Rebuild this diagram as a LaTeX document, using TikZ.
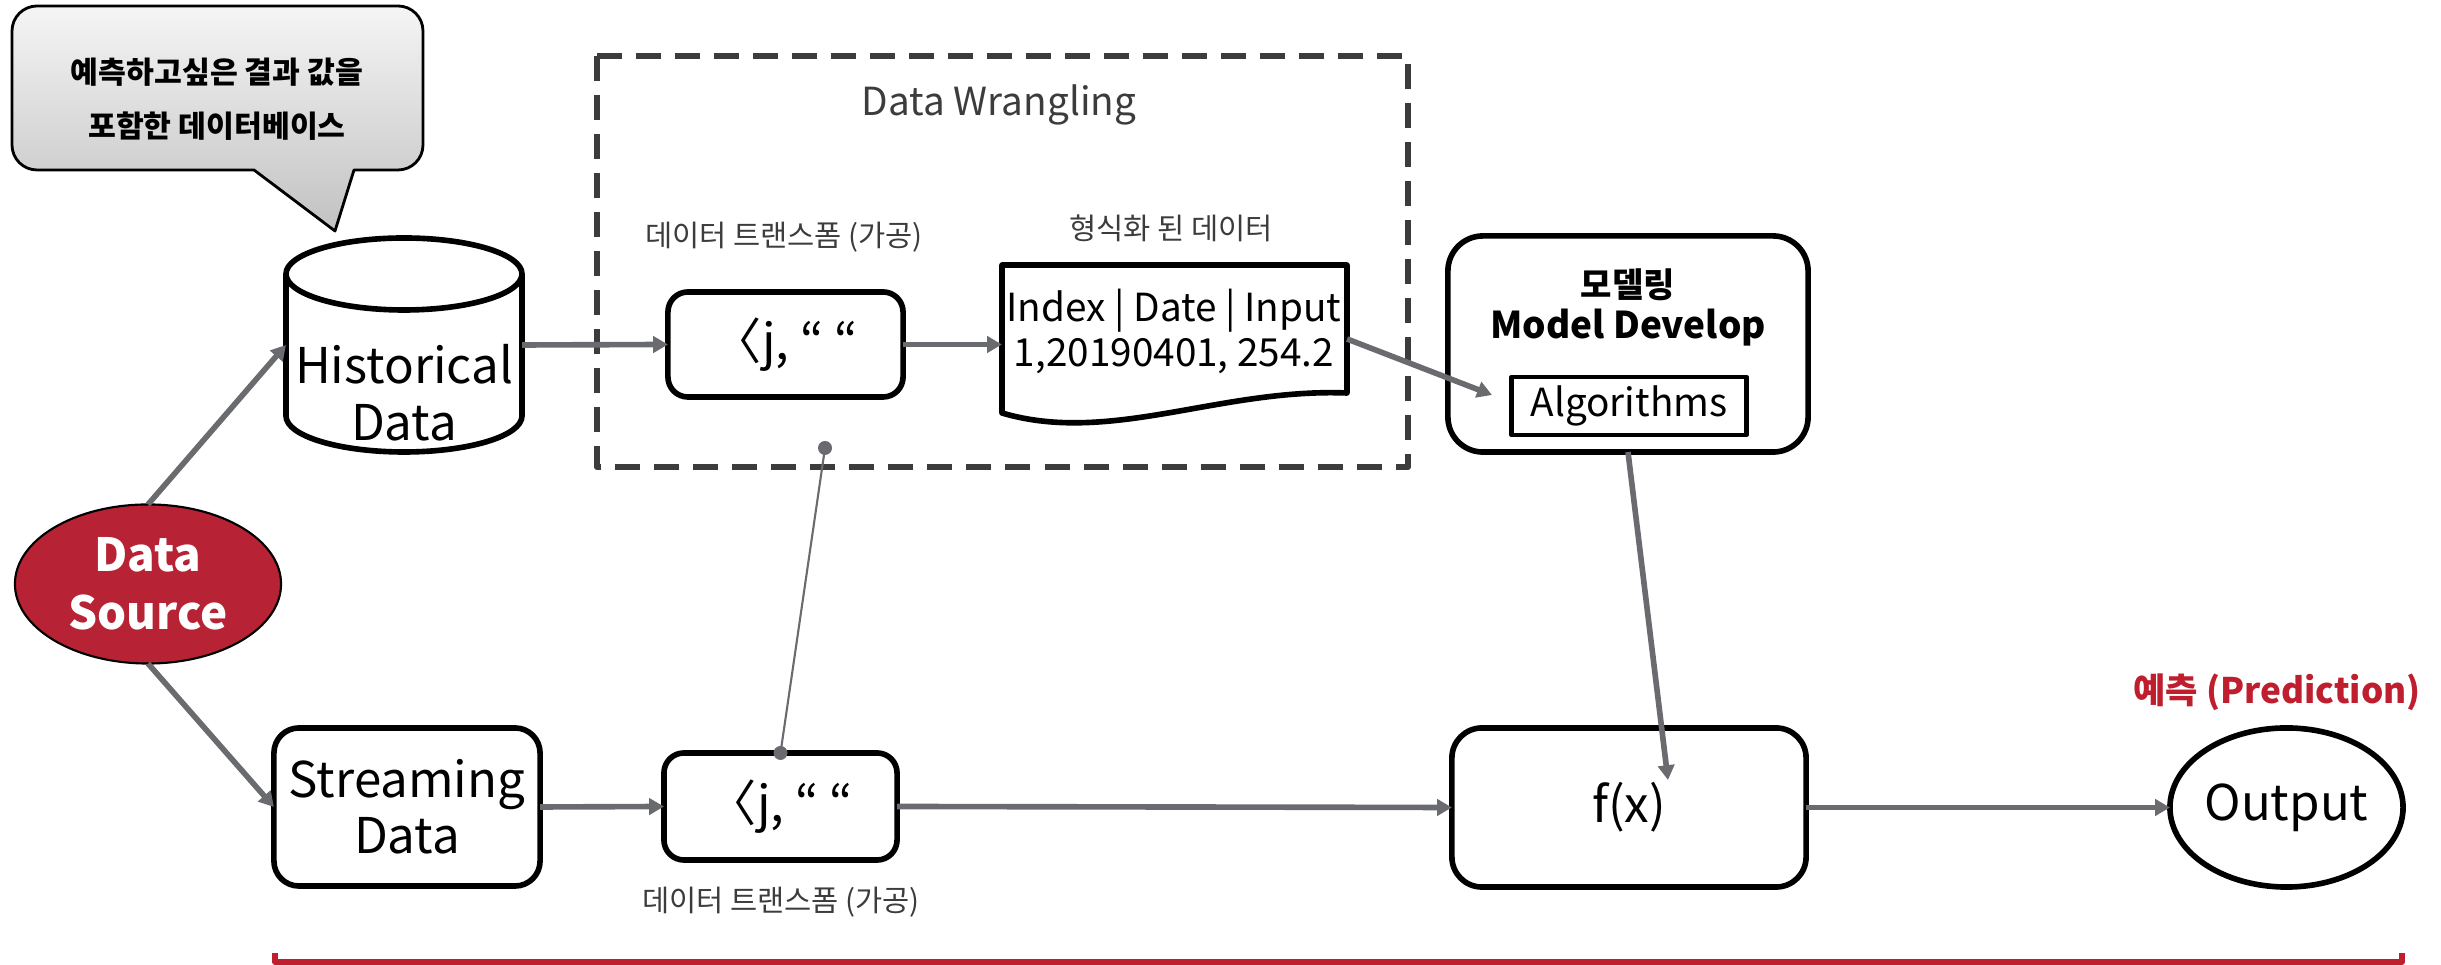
\documentclass[tikz,border=0pt]{standalone}
\usepackage{fontspec}
\setmainfont{Noto Sans CJK KR}
\usetikzlibrary{arrows.meta,shapes.geometric}
\definecolor{dsred}{HTML}{B72234}
\definecolor{labred}{HTML}{BE1E2D}
\definecolor{conn}{HTML}{6A6B6F}
\definecolor{wrangle}{HTML}{3C3C3C}
\newcommand{\fsz}[2]{\fontsize{#1}{#2}\selectfont}

\begin{document}
\begin{tikzpicture}[x=0.01cm, y=-0.01cm, line join=round,
  every node/.style={inner sep=0pt, outer sep=0pt, align=center},
  frame/.style={draw=black, line width=1.6pt, fill=white},
  roundbox/.style={frame, rounded corners=#1},
  flow/.style={draw=conn, line width=1.6pt, -{Triangle[length=4.2pt,width=4.6pt]}},
  tag/.style={text=wrangle, font=\fsz{8.4}{10}},
  bigtext/.style={font=\fsz{14}{16}}]
\useasboundingbox (0,0) rectangle (2441,965);

% Data wrangling frame
\draw[wrangle, line width=1.7pt, dash pattern=on 0.25cm off 0.14cm] (597,56) rectangle (1408,467);
\node[text=wrangle, font=\fsz{11}{13}] (dwtitle) at (999,105) {Data Wrangling};

% callout with tail pointing at the database
\path[draw=black, line width=0.8pt, top color=gray!8, bottom color=gray!48]
  (37,6) -- (398,6) arc[start angle=270, end angle=360, radius=25]
  -- (423,145) arc[start angle=0, end angle=90, radius=25]
  -- (354,170) -- (335,231) -- (254,170)
  -- (37,170) arc[start angle=90, end angle=180, radius=25]
  -- (12,31) arc[start angle=180, end angle=270, radius=25] -- cycle;
\node[font=\bfseries\fsz{8.6}{15.4}] (note) at (217,99) {예측하고싶은 결과 값을\\포함한 데이터베이스};

% database cylinder
\path[frame] (286,274) -- (286,416) arc[start angle=180, end angle=0, x radius=118, y radius=36]
  -- (522,274) arc[start angle=0, end angle=-180, x radius=118, y radius=36] -- cycle;
\draw[line width=1.6pt] (286,274) arc[start angle=180, end angle=0, x radius=118, y radius=36];
\node[minimum width=2.36cm, minimum height=2.14cm] (hist) at (404,345) {};
\node[font=\fsz{14}{16.2}] (histtext) at (404,393) {Historical\\Data};

% sources
\node[ellipse, draw=black, line width=0.6pt, fill=dsred, minimum width=2.66cm, minimum height=1.59cm,
  text=white, font=\bfseries\fsz{13}{16.5}] (ds) at (148,584) {Data\\Source};
\node[roundbox=0.25cm, minimum width=2.66cm, minimum height=1.58cm, font=\fsz{14}{16}] (stream) at (407,807) {Streaming\\Data};

% transforms
\node[roundbox=0.2cm, minimum width=2.35cm, minimum height=1.05cm, bigtext] (ubox) at (785.5,344.5) {〈j, “ “};
\node[roundbox=0.2cm, minimum width=2.33cm, minimum height=1.07cm, bigtext] (lbox) at (780.5,806.5) {〈j, “ “};
\node[tag] (ulabel) at (784,237) {데이터 트랜스폼 (가공)};
\node[tag] (llabel) at (781,902) {데이터 트랜스폼 (가공)};
\node[tag] (doclabel) at (1171,228) {형식화 된 데이터};

% formatted data document
\path[frame] (1002,265) -- (1347,265) -- (1347,393)
  .. controls (1220,388) and (1110,445) .. (1002,413) -- cycle;
\node[minimum width=3.45cm, minimum height=1.48cm] (doc) at (1174.5,339) {};
\node[font=\fsz{11}{12.8}] (doctext) at (1174,331) {Index | Date | Input\\1,20190401, 254.2};

% modelling
\node[roundbox=0.35cm, minimum width=3.60cm, minimum height=2.16cm] (model) at (1628,344) {};
\node[font=\bfseries\fsz{9.7}{12}] (modelkr) at (1628,285) {모델링};
\node[font=\bfseries\fsz{10.5}{12}] (modelen) at (1628,328) {Model Develop};
\node[frame, line width=1.4pt, minimum width=2.34cm, minimum height=0.58cm, font=\fsz{11}{12}] (alg) at (1629,406) {Algorithms};

% prediction
\node[roundbox=0.3cm, minimum width=3.54cm, minimum height=1.59cm, bigtext] (fx) at (1629,807.5) {f(x)};
\node[ellipse, frame, minimum width=2.33cm, minimum height=1.59cm, bigtext] (out) at (2286.5,807.5) {Output};
\node[text=labred, font=\bfseries\fsz{10}{12}] (pred) at (2277,692) {예측 (Prediction)};

% connector ends
\coordinate (mtip) at (1492,395);
\coordinate (ftip) at (1668,780);
\coordinate (dtop) at (825,448);

% connectors
\draw[flow] (ds.north) -- (hist.west);
\draw[flow] (ds.south) -- (stream.west);
\draw[flow] (hist.east) -- (ubox.west);
\draw[flow] (ubox.east) -- (ubox.east -| doc.west);
\draw[flow] (doc.east) -- (mtip);
\draw[flow] (model.south) -- (ftip);
\draw[flow] (stream.east) -- (lbox.west);
\draw[flow] (lbox.east) -- (fx.west);
\draw[flow] (fx.east) -- (out.west);
\draw[conn, line width=0.6pt] (lbox.north) -- (dtop);
\fill[conn] (lbox.north) circle[radius=7];
\fill[conn] (dtop) circle[radius=7];

% pipeline bracket
\draw[labred, line width=1.5pt] (275,953) -- (275,962) -- (2402,962) -- (2402,953);
\end{tikzpicture}
\end{document}
